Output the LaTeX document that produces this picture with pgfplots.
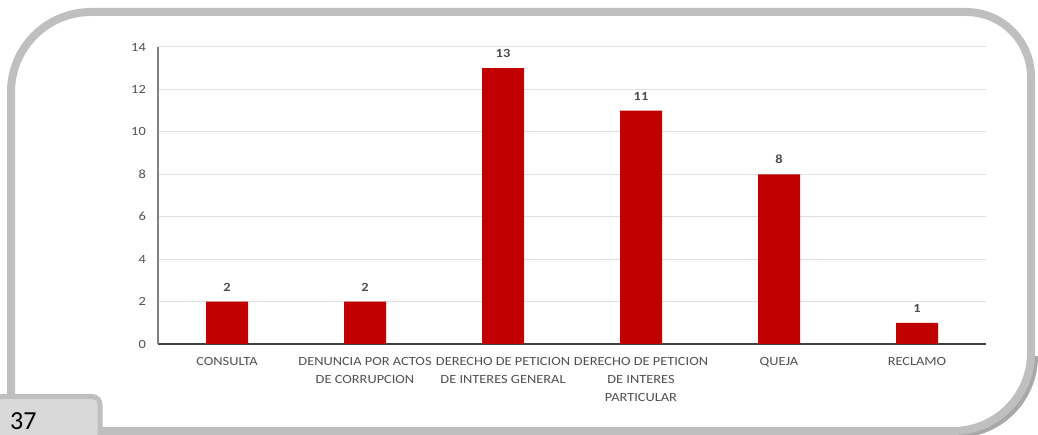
\documentclass[border=0pt]{standalone}
\usepackage{pgfplots}
\pgfplotsset{compat=1.18}
\usepackage{fontspec}
\setmainfont[FakeStretch=1.15]{Carlito}
\newfontfamily\plainfont{Carlito}
\definecolor{barred}{HTML}{C00000}
\definecolor{txt}{HTML}{505050}
\definecolor{framec}{HTML}{BFBFBF}
\definecolor{shadowc}{HTML}{A8A8A8}
\definecolor{tabfill}{HTML}{D9D9D9}
\definecolor{gridc}{HTML}{E0E0E0}
\begin{document}
\begin{tikzpicture}
\path[use as bounding box] (0pt,0pt) rectangle (1038pt,435pt);
% shadow bottom-right
\begin{scope}
\clip (880pt,-10pt) rectangle (1045pt,78pt);
\draw[line width=8pt, shadowc] (34pt,1pt) -- (956pt,1pt) arc[start angle=-90,end angle=0,radius=78pt] -- (1034pt,355pt);
\end{scope}
% frame
\draw[line width=8pt, framec] (31pt,4pt) -- (953pt,4pt) arc[start angle=-90,end angle=0,radius=78pt]
  -- (1031pt,358pt) arc[start angle=0,end angle=90,radius=65pt]
  -- (91pt,423pt) arc[start angle=90,end angle=180,radius=80pt]
  -- (11pt,24pt) arc[start angle=180,end angle=270,radius=20pt] -- cycle;
% page tab
\draw[line width=5pt, framec, fill=tabfill, rounded corners=8pt] (-6pt,-6pt) -- (-6pt,38.5pt) -- (100pt,38.5pt) -- (100pt,-6pt);
\node[anchor=base west, inner sep=0pt, font=\plainfont\fontsize{26}{26}\selectfont] at (10pt,5pt) {37};
\begin{axis}[
  at={(158pt,91pt)}, anchor=south west,
  scale only axis, width=828pt, height=297pt,
  ybar, bar width=42pt,
  xmin=-0.5, xmax=5.5, ymin=0, ymax=14,
  enlargelimits=false,
  ytick={0,2,...,14},
  xtick={0,1,2,3,4,5},
  xticklabels={CONSULTA,{DENUNCIA POR ACTOS\\DE CORRUPCION},{DERECHO DE PETICION\\DE INTERES GENERAL},{DERECHO DE PETICION\\DE INTERES\\PARTICULAR},QUEJA,RECLAMO},
  axis x line*=bottom, axis y line*=left,
  x axis line style={draw=black!75, line width=1.3pt, -},
  y axis line style={draw=black!50, line width=1.2pt, -},
  ymajorgrids, grid style={gridc, line width=1pt},
  major tick length=0pt,
  /pgf/number format/assume math mode=true,
  tick label style={font=\fontsize{12.5}{18}\selectfont, text=txt},
  yticklabel style={anchor=east, inner sep=0pt, xshift=-12pt},
  xticklabel style={anchor=north, align=center, inner sep=0pt, yshift=-13pt},
  nodes near coords,
  every node near coord/.append style={font=\bfseries\fontsize{12.5}{14}\selectfont, text=black!70, inner sep=0pt, anchor=south, yshift=10pt},
]
\addplot[fill=barred, draw=none] coordinates {(0,2) (1,2) (2,13) (3,11) (4,8) (5,1)};
\end{axis}
\end{tikzpicture}
\end{document}
